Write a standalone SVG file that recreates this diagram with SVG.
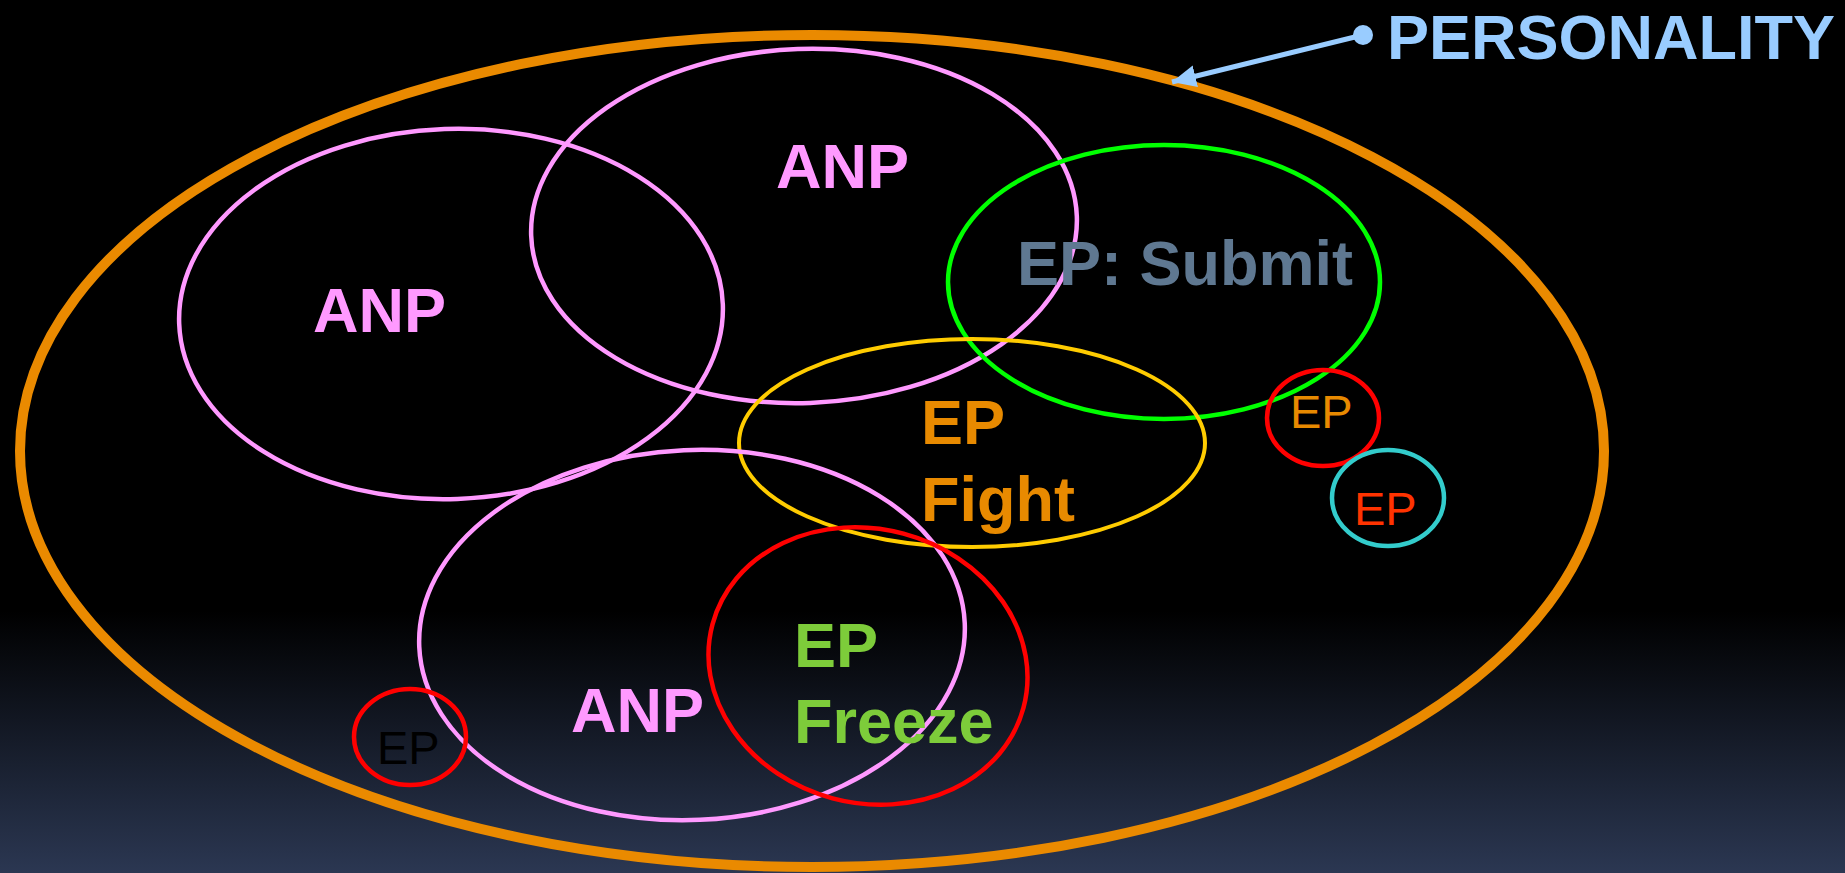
<svg xmlns="http://www.w3.org/2000/svg" width="1845" height="873" viewBox="0 0 1845 873">
  <defs>
    <linearGradient id="bg" x1="0" y1="0" x2="0" y2="873" gradientUnits="userSpaceOnUse">
      <stop offset="0" stop-color="#000000"/>
      <stop offset="0.7" stop-color="#000000"/>
      <stop offset="1" stop-color="#2b3752"/>
    </linearGradient>
    <marker id="head" markerUnits="userSpaceOnUse" markerWidth="28" markerHeight="24" refX="24" refY="12" orient="auto">
      <path d="M0,1 L24,12 L0,23 z" fill="#99ccff"/>
    </marker>
    <style>
      .ring { fill: none; }
      .anp { stroke: #ff99ff; stroke-width: 4.5; }
      .big { font-family: "Liberation Sans", Arial, sans-serif; font-weight: bold; font-size: 63px; }
      .small { font-family: "Liberation Sans", Arial, sans-serif; font-size: 47px; }
    </style>
  </defs>

  <rect width="1845" height="873" fill="url(#bg)"/>

  <!-- outer boundary of the whole personality -->
  <g id="personality">
    <ellipse class="ring" cx="812" cy="451" rx="792" ry="416" stroke="#ea8a00" stroke-width="10"/>
    <text class="big" x="1387" y="59" fill="#99ccff">PERSONALITY</text>
  </g>

  <g id="anp-left">
    <ellipse class="ring anp" cx="451" cy="314" rx="272" ry="185" transform="rotate(-2 451 314)"/>
    <text class="big" x="313" y="332" fill="#ff99ff">ANP</text>
  </g>

  <g id="anp-top">
    <ellipse class="ring anp" cx="804" cy="226" rx="273" ry="177" transform="rotate(-2 804 226)"/>
    <text class="big" x="776" y="188" fill="#ff99ff">ANP</text>
  </g>

  <g id="ep-submit">
    <ellipse class="ring" cx="1164" cy="282" rx="216" ry="137" stroke="#00ff00" stroke-width="4.5"/>
    <text class="big" x="1017" y="285" fill="#5f7891">EP: Submit</text>
  </g>

  <g id="ep-fight">
    <ellipse class="ring" cx="972" cy="443" rx="233" ry="104" stroke="#ffcc00" stroke-width="4"/>
    <text class="big" x="921" y="444" fill="#e88a00">EP</text>
    <text class="big" x="921" y="521" fill="#e88a00">Fight</text>
  </g>

  <g id="anp-bottom">
    <ellipse class="ring anp" cx="692" cy="635" rx="273" ry="185" transform="rotate(-2.5 692 635)"/>
    <text class="big" x="571" y="732" fill="#ff99ff">ANP</text>
  </g>

  <g id="ep-freeze">
    <ellipse class="ring" cx="868" cy="666" rx="161" ry="137" stroke="#ff0000" stroke-width="4.5" transform="rotate(15 868 666)"/>
    <text class="big" x="794" y="667" fill="#7dcc3a">EP</text>
    <text class="big" x="794" y="743" fill="#7dcc3a">Freeze</text>
  </g>

  <g id="ep-red-right">
    <ellipse class="ring" cx="1323" cy="418" rx="56" ry="48" stroke="#ff0000" stroke-width="4.5"/>
    <text class="small" x="1290" y="428" fill="#e88a00">EP</text>
  </g>

  <g id="ep-cyan">
    <ellipse class="ring" cx="1388" cy="498" rx="56" ry="48" stroke="#33cccc" stroke-width="4.5"/>
    <text class="small" x="1354" y="525" fill="#ff3300">EP</text>
  </g>

  <g id="ep-red-left">
    <ellipse class="ring" cx="410" cy="737" rx="56" ry="48" stroke="#ff0000" stroke-width="4.5"/>
    <text class="small" x="377" y="764" fill="#000000">EP</text>
  </g>

  <!-- pointer from the label to the outer boundary -->
  <g id="connectors">
    <line x1="1363" y1="35" x2="1172" y2="82" stroke="#99ccff" stroke-width="5" marker-end="url(#head)"/>
    <circle cx="1363" cy="35" r="10" fill="#99ccff"/>
  </g>
</svg>
